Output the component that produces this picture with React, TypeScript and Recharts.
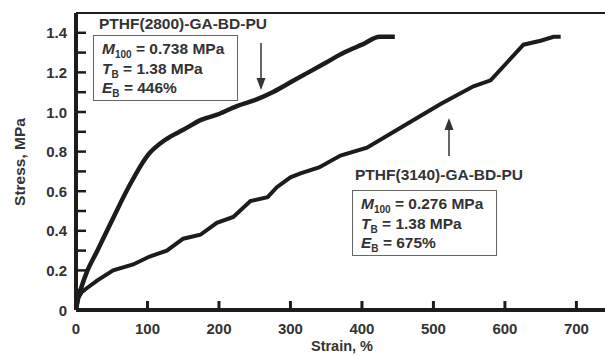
import { LineChart, Line, XAxis, YAxis, ReferenceLine } from 'recharts'

// PTHF(2800)-GA-BD-PU
const strain2800 = [0, 3, 8, 15, 30, 50, 75, 100, 125, 150, 175, 200, 225, 250, 275, 300, 325, 350, 375, 400, 425, 446]
const stress2800 = [0, 0.06, 0.12, 0.19, 0.3, 0.45, 0.63, 0.78, 0.86, 0.91, 0.96, 0.99, 1.03, 1.06, 1.1, 1.15, 1.2, 1.25, 1.3, 1.34, 1.38, 1.38]

// PTHF(3140)-GA-BD-PU
const strain3140 = [0, 3, 8, 15, 30, 52, 80, 103, 127, 150, 174, 197, 220, 244, 268, 281, 300, 314, 340, 370, 407, 454, 510, 556, 580, 603, 626, 650, 668, 678]
const stress3140 = [0, 0.06, 0.09, 0.11, 0.15, 0.2, 0.23, 0.27, 0.3, 0.36, 0.38, 0.44, 0.47, 0.55, 0.57, 0.62, 0.67, 0.69, 0.72, 0.78, 0.82, 0.92, 1.04, 1.13, 1.16, 1.25, 1.34, 1.36, 1.38, 1.38]

const xTicks = [0, 100, 200, 300, 400, 500, 600, 700]
const yTicks = [0, 0.1, 0.2, 0.3, 0.4, 0.5, 0.6, 0.7, 0.8, 0.9, 1.0, 1.1, 1.2, 1.3, 1.4]
const yLabels = ['0', '0.2', '0.4', '0.6', '0.8', '1.0', '1.2', '1.4']

const data2800 = strain2800.map((s, i) => ({ strain: s, stress: stress2800[i] }))
const data3140 = strain3140.map((s, i) => ({ strain: s, stress: stress3140[i] }))

const ink = '#1c1c1c'
const font = '"Liberation Sans", Arial, sans-serif'

function YTick(props: any) {
  const { x, y, index } = props
  const label = index % 2 === 0 ? yLabels[index / 2] : null
  return (
    <g>
      <line x1={x} y1={y} x2={x + 10} y2={y} stroke={ink} strokeWidth={2.5} />
      {label && (
        <text x={x - 9} y={y} dy={5.5} textAnchor="end" fontFamily={font} fontWeight="bold" fontSize={15} fill="#333">
          {label}
        </text>
      )}
    </g>
  )
}

function XTick(props: any) {
  const { x, y, payload } = props
  return (
    <g>
      <line x1={x} y1={y} x2={x} y2={y - 9} stroke={ink} strokeWidth={3} />
      <text x={x} y={y + 24} textAnchor="middle" fontFamily={font} fontWeight="bold" fontSize={15} fill="#333">
        {payload.value}
      </text>
    </g>
  )
}

const boxText: React.CSSProperties = {
  position: 'absolute',
  fontFamily: font,
  fontWeight: 'bold',
  fontSize: 15.5,
  color: '#333',
  whiteSpace: 'nowrap',
}

const subStyle: React.CSSProperties = { fontSize: 10, position: 'relative', top: 4, lineHeight: 0 }

function InfoBox({ left, top, m100, tb, eb }: { left: number; top: number; m100: string; tb: string; eb: string }) {
  return (
    <div
      style={{
        ...boxText,
        left,
        top,
        width: 145,
        height: 66,
        border: '1.5px solid #666',
        paddingLeft: 8,
        paddingTop: 3,
        boxSizing: 'border-box',
        lineHeight: '19.5px',
        background: '#fff',
      }}
    >
      <div>
        <i>M</i>
        <span style={subStyle}>100</span> = {m100}
      </div>
      <div>
        <i>T</i>
        <span style={subStyle}>B</span> = {tb}
      </div>
      <div>
        <i>E</i>
        <span style={subStyle}>B</span> = {eb}
      </div>
    </div>
  )
}

export default function App() {
  return (
    <div style={{ position: 'absolute', left: 0, top: 0, width: 605, height: 356, background: '#fff', overflow: 'hidden' }}>
      <LineChart width={605} height={356} margin={{ top: 13, right: 0, bottom: 0, left: 0 }}>
        <XAxis
          type="number"
          dataKey="strain"
          domain={[0, 740]}
          ticks={xTicks}
          allowDataOverflow
          height={46}
          tickSize={0}
          tickMargin={0}
          tickLine={false}
          axisLine={{ stroke: ink, strokeWidth: 4 }}
          tick={<XTick />}
        />
        <YAxis
          type="number"
          dataKey="stress"
          domain={[0, 1.5]}
          ticks={yTicks}
          interval={0}
          allowDataOverflow
          width={76}
          tickSize={0}
          tickMargin={0}
          tickLine={false}
          axisLine={{ stroke: ink, strokeWidth: 4 }}
          tick={<YTick />}
        />
        <ReferenceLine y={1.5} stroke={ink} strokeWidth={2} />
        <Line
          data={data2800}
          dataKey="stress"
          type="monotone"
          stroke={ink}
          strokeWidth={4.5}
          dot={false}
          isAnimationActive={false}
        />
        <Line
          data={data3140}
          dataKey="stress"
          type="linear"
          stroke={ink}
          strokeWidth={4}
          dot={false}
          isAnimationActive={false}
        />
      </LineChart>

      <svg width={605} height={356} style={{ position: 'absolute', left: 0, top: 0, pointerEvents: 'none' }}>
        <defs>
          <marker id="head" markerWidth="8" markerHeight="8" refX="4" refY="4" orient="auto">
            <path d="M0,1 L8,4 L0,7 Z" fill="#333" />
          </marker>
        </defs>
        <line x1={261} y1={43} x2={261} y2={84} stroke="#333" strokeWidth={1.5} markerEnd="url(#head)" />
        <line x1={449} y1={156} x2={449} y2={124} stroke="#333" strokeWidth={1.5} markerEnd="url(#head)" />
        <text
          transform="translate(25,162) rotate(-90)"
          textAnchor="middle"
          fontFamily={font}
          fontWeight="bold"
          fontSize={15.5}
          fill="#333"
        >
          Stress, MPa
        </text>
        <text x={342} y={351} textAnchor="middle" fontFamily={font} fontWeight="bold" fontSize={14.5} fill="#333">
          Strain, %
        </text>
      </svg>

      <div style={{ ...boxText, left: 99, top: 15 }}>PTHF(2800)-GA-BD-PU</div>
      <InfoBox left={93} top={35} m100="0.738 MPa" tb="1.38 MPa" eb="446%" />

      <div style={{ ...boxText, left: 355, top: 166 }}>PTHF(3140)-GA-BD-PU</div>
      <InfoBox left={352} top={190} m100="0.276 MPa" tb="1.38 MPa" eb="675%" />
    </div>
  )
}
